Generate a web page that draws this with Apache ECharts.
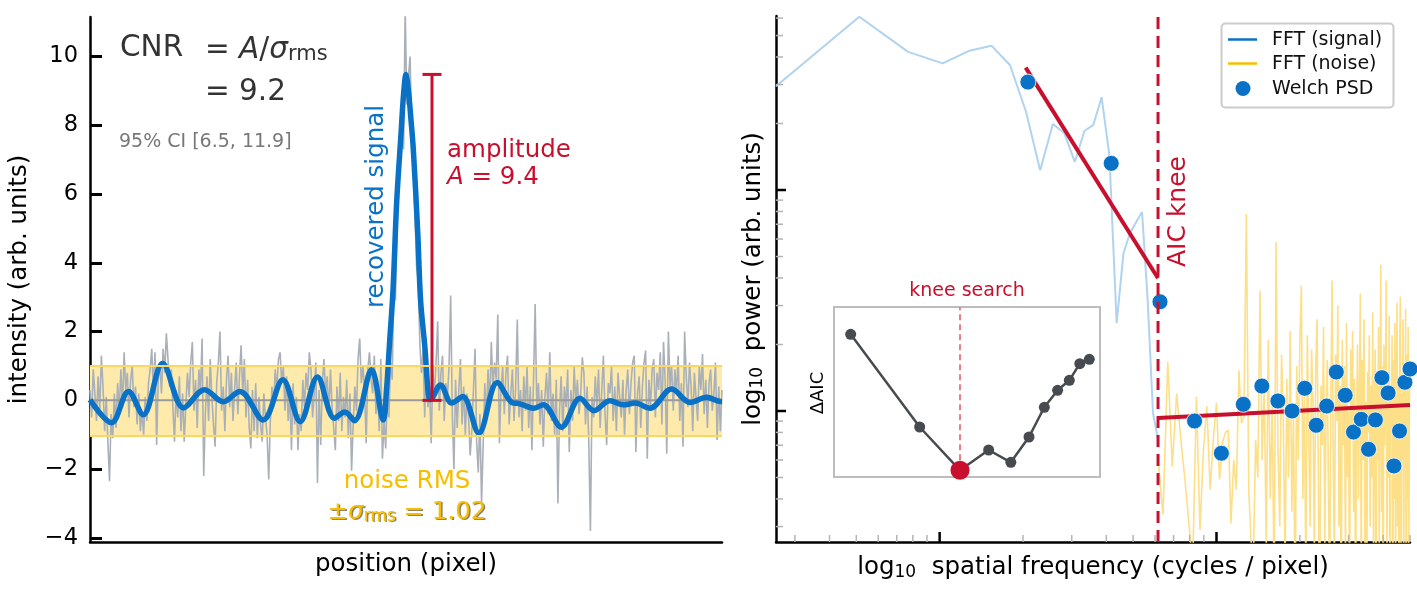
<!DOCTYPE html>
<html><head><meta charset="utf-8">
<script src="https://cdn.jsdelivr.net/npm/echarts@6/dist/echarts.min.js"></script>
<style>html,body{margin:0;padding:0;background:#fff}#c{width:1417px;height:590px}</style>
</head><body><div id="c"></div>
<script>
const FONT = 'DejaVu Sans';
const RED = '#c8102e', BLUE = '#0a72c6', GOLD = '#f5bf00';

// ---------- Left panel: intensity profile ----------
const noisyProfile = [
 0.3,-0.5,0.9,0.2,-0.6,0.7,-0.3,1.3,0.4,-0.9,
 0.1,-1.2,-2.35,-0.4,-1.1,0.2,-0.8,0.5,-0.3,0.9,
 -0.2,1.4,0.3,0.8,-0.5,0.6,1.0,-0.2,0.4,-0.7,
 0.2,-0.9,-0.3,-1.0,0.1,-0.6,0.5,0.9,1.5,0.3,
 1.4,-1.3,0.6,1.1,0.2,1.5,0.8,1.95,1.2,0.4,
 0.9,-0.2,-1.2,0.3,-0.5,0.7,-0.9,0.2,-1.2,-0.1,
 0.8,0.1,1.1,1.7,-0.3,0.6,-0.8,0.9,0.3,1.8,
 -2.2,-0.4,0.7,-0.6,1.2,0.1,-0.7,-1.35,0.5,1.1,
 2.0,-0.3,0.4,-0.9,0.6,1.3,-0.2,0.8,-0.6,0.3,
 1.1,-0.4,0.7,1.6,0.2,1.2,-0.5,0.6,-0.8,-1.4,
 0.3,-0.9,0.5,-1.1,0.1,-0.7,-1.2,0.2,-0.5,-1.0,
 -2.3,-0.6,0.4,-0.2,0.9,0.3,1.2,1.4,0.5,1.0,
 -0.3,0.7,-0.6,0.2,-1.45,0.5,-0.7,0.1,-1.45,-0.4,
 -0.9,0.6,-0.2,0.8,0.3,1.4,0.9,-0.5,0.2,1.1,
 -2.4,0.3,-1.3,0.5,1.2,0.2,0.7,-0.4,0.9,-0.2,
 -0.8,-1.45,0.4,-0.6,0.8,-0.9,0.1,-0.5,0.6,-1.1,
 0.2,-2.05,-0.7,0.4,-0.3,1.2,1.8,0.5,1.0,0.3,
 -1.25,0.9,1.4,0.6,0.2,1.3,-0.4,0.5,-0.9,1.2,
 -1.7,-0.6,-1.4,0.3,-0.5,1.1,0.6,3.3,2.9,5.1,
 6.4,7.5,8.8,7.3,11.4,8.6,9.4,10.0,7.9,7.0,
 5.4,3.9,3.5,1.7,0.8,1.5,-0.5,1.0,-0.2,0.4,
 -1.25,0.9,0.2,1.1,2.3,-0.3,0.8,1.3,-0.6,0.5,
 0.1,1.0,3.05,-0.4,-2.0,0.6,-0.8,0.3,1.2,-0.7,
 0.4,-1.0,0.2,-0.5,-1.6,-0.9,0.3,1.5,-1.2,-2.1,
 -0.4,-3.0,-1.3,0.5,-0.6,0.9,-0.2,1.7,0.4,1.1,
 0.6,2.5,-1.25,0.3,1.0,-0.4,0.8,1.3,-0.7,0.2,
 0.9,-0.6,0.4,2.35,-0.5,0.3,-0.9,0.7,-0.3,1.0,
 -0.8,0.4,-1.45,0.6,2.8,-0.2,0.5,-0.7,0.3,-1.35,
 0.1,0.8,-0.4,1.4,-0.6,0.2,-1.0,0.6,-3.0,-0.3,
 0.7,-0.9,0.4,-0.2,0.9,-1.5,0.3,-0.6,1.0,-0.1,
 0.6,-0.4,0.2,1.25,0.8,-0.7,0.4,-1.2,-3.8,0.1,
 -0.5,0.7,-0.2,0.9,-0.8,0.3,1.3,-0.4,-1.3,0.5,
 0.2,1.0,-0.6,0.4,-0.9,0.8,0.1,-0.5,0.6,-1.0,
 0.3,0.9,-0.4,0.5,1.1,1.3,-1.5,0.2,0.7,-0.8,
 0.4,1.1,1.45,-1.7,0.6,-0.2,0.9,1.2,-0.5,0.8,
 0.3,1.4,-0.7,1.7,0.6,-1.55,2.0,0.4,1.0,-0.3,
 0.9,0.2,1.3,-0.6,0.5,-1.35,2.0,0.7,-0.2,1.1,
 0.4,-0.9,0.8,0.1,-0.6,1.0,0.3,1.35,-0.4,0.6,
 -0.8,0.5,0.9,-0.3,0.2,1.1,-1.15,0.4,-0.9,0.3
];
const recoveredPos = [0,13.2,23.7,32.7,44.7,57.7,70.5,82,92.2,106.6,118.7,129.4,140,150.5,156.8,162.8,173.3,180.5,
 182.5,184.5,186.5,188.8,191.5,193,194.5,196,197.5,199,201.7,203.5,206.2,208.2,209.5,
 215.7,222.6,229.4,239.3,250.7,259.6,264.7,272.9,279,290.1,301.6,310.2,320,328.3,335.5,344.7,358,369.3,379.6,387.8,389];
const recoveredVal = [0.02,-0.65,0.26,-0.42,1.07,-0.22,0.31,-0.04,0.26,-0.57,0.6,-0.62,0.68,-0.52,-0.34,-0.59,0.89,-0.57,
 0.3,1.76,3.2,5.8,7.8,8.9,9.48,9.0,8.2,7.3,4.9,2.9,1.5,0.2,0.02,
 0.45,-0.08,0.11,-0.95,0.52,-0.06,-0.1,-0.23,-0.13,-0.78,0.06,-0.3,-0.01,-0.13,-0.08,-0.23,0.33,-0.06,0.09,-0.03,-0.03];
const noiseSigma = 1.02;
const amplitudePos = 210.5;
const amplitudeTop = 9.48;
const leftTicks = [-4,-2,0,2,4,6,8,10];

// ---------- Right panel: power spectra ----------
const fftLength = 390;                 // frequency bin k -> k / fftLength
const fftSignalStartBin = 1;
const fftSignalPower = [29.5,60.8,42.2,37.4,42.7,45.0,36.8,22.6,12.3,19.9,18.1,13.4,18.5,19.7,26.3,14.4,2.5,5.19,6.39,7.17,7.95,3.18,0.98,0.74];
const fftNoiseStartBin = 24;
const fftNoisePower = [
 0.6,0.34,1.67,0.56,1.2,0.74,0.49,0.31,0.2,1.16,
 0.29,0.67,1.05,0.44,0.75,1.09,0.49,0.72,0.8,0.82,
 0.31,0.6,0.44,1.53,0.88,0.94,7.8,0.44,0.26,0.2,
 0.74,0.5,3.5,0.6,1.3,0.25,2.1,0.4,1.1,0.15,
 5.8,0.7,0.3,1.8,0.9,0.2,1.4,0.5,2.3,0.35,
 1.0,0.12,1.6,0.6,2.0,3.7,0.4,1.2,0.18,2.2,
 0.8,0.3,1.9,1.1,0.22,1.5,2.6,0.5,0.1,1.3,
 0.7,2.4,0.25,1.0,1.7,0.4,0.15,1.2,3.9,0.6,
 0.2,1.8,0.9,3.0,0.3,1.3,0.08,2.1,0.7,1.6,
 0.2,2.5,0.5,1.0,0.12,1.9,0.8,2.3,0.35,1.4,
 0.1,0.9,2.0,0.4,1.2,3.4,0.15,1.7,0.6,2.6,
 0.25,1.1,0.07,1.5,0.8,2.2,0.3,1.3,0.5,2.8,
 0.18,1.0,1.9,0.1,1.4,0.6,2.4,0.22,1.2,4.6,
 0.35,1.6,0.09,2.0,0.7,1.1,3.9,0.2,1.5,0.5,
 2.7,0.12,1.3,0.8,2.2,0.06,1.7,0.4,2.5,0.15,
 1.0,3.1,0.3,1.4,0.08,2.0,3.3,0.2,1.2,0.6,
 2.6,0.1,1.5,0.7,2.9,0.05,1.8,0.4,2.4,0.18,
 1.1,1.6
];
const welchSegment = 48;               // Welch bin m -> m / welchSegment
const welchPower = [30.8,13.2,3.12,0.901,0.644,1.072,1.297,1.11,1.0,1.267,0.862,1.053,1.501,1.178,0.803,0.917,0.671,0.911,1.415,1.206,0.564,0.812,1.349,1.549];
const kneeFreq = 0.0615;
const fitLowFreq = [0.02045, 0.0615];
const fitLowPower = [35.8, 3.99];
const fitHighFreq = [0.0615, 0.5];
const fitHighPower = [0.93, 1.064];
// inset: knee search over Welch bins 1..11
const aicBins = [1,2,3,4,5,6,7,8,9,10,11];
const aicDelta = [13.6,4.33,0,2.03,0.8,3.33,6.3,8.0,9.0,10.66,11.1];
const aicBest = 3;

// axis extents
const X_MIN_L = 0, X_MAX_L = 389, Y_MIN_L = -4.12, Y_MAX_L = 11.15;
const X_MIN_R = 1/390, X_MAX_R = 0.5, Y_MIN_R = 0.2554, Y_MAX_R = 61.3;
const xMajorR = [0.01, 0.1], yMajorR = [1, 10];
const xMinorR = [], yMinorR = [];
[0.001,0.01,0.1].forEach(d=>{for(let j=2;j<=9;j++){const v=d*j; if(v>=X_MIN_R&&v<=X_MAX_R+1e-9) xMinorR.push(v);}});
[0.1,1,10].forEach(d=>{for(let j=2;j<=9;j++){const v=d*j; if(v>=Y_MIN_R&&v<=Y_MAX_R) yMinorR.push(v);}});

const chart = echarts.init(document.getElementById('c'), null, {width:1417, height:590});

const sub = (fs)=>({fontSize:fs, fontFamily:FONT, color:'#000', verticalAlign:'bottom', lineHeight:fs*0.8});
const txt = (fs)=>({fontSize:fs, fontFamily:FONT, color:'#000', lineHeight:fs*1.25, verticalAlign:'bottom'});

function tickSeries(axisIdx, data, isY, majorLen, minorLen){
  return {type:'custom', xAxisIndex:axisIdx, yAxisIndex:axisIdx, z:8, silent:true, clip:false,
    data: data,
    renderItem:(p, api)=>{
      const pt = api.coord([api.value(0), api.value(1)]);
      const major = api.value(2) === 1;
      const len = major ? majorLen : minorLen;
      const shape = isY ? {x1:pt[0], y1:pt[1], x2:pt[0]+len, y2:pt[1]} : {x1:pt[0], y1:pt[1], x2:pt[0], y2:pt[1]-len};
      return {type:'line', shape, style:{stroke: major ? '#000' : '#b4b4b4', lineWidth: major ? 2.5 : 1.5}};
    }};
}

const shadow = {textShadowColor:'rgba(70,50,0,0.6)', textShadowOffsetX:1.5, textShadowOffsetY:1.5, textShadowBlur:0.5};

const option = {
  animation:false,
  backgroundColor:'#fff',
  textStyle:{fontFamily:FONT},
  grid:[
    {left:90, top:17, width:632, height:525, outerBoundsMode:'none'},
    {left:776, top:16, width:634, height:526, outerBoundsMode:'none'},
    {left:834, top:307, width:266, height:170, show:true, borderColor:'#bdbdbd', borderWidth:2, backgroundColor:'rgba(255,255,255,0)', outerBoundsMode:'none'}
  ],
  xAxis:[
    {gridIndex:0, type:'value', min:X_MIN_L, max:X_MAX_L,
     axisLine:{show:true, onZero:false, lineStyle:{color:'#000', width:2.5}}, axisTick:{show:false}, axisLabel:{show:false}, splitLine:{show:false},
     name:'position (pixel)', nameLocation:'middle', nameGap:10, nameTextStyle:{fontSize:24.5, color:'#000', fontFamily:FONT}},
    {gridIndex:1, type:'log', min:X_MIN_R, max:X_MAX_R,
     axisLine:{show:true, onZero:false, lineStyle:{color:'#000', width:2.5}}, axisTick:{show:false}, axisLabel:{show:false}, splitLine:{show:false}, minorTick:{show:false},
     name:'{a|log}{s|10}{a|  spatial frequency (cycles / pixel)}', nameLocation:'middle', nameGap:8,
     nameTextStyle:{rich:{a:txt(24.5), s:sub(17)}}},
    {gridIndex:2, type:'log', min:0.017615, max:0.2552, show:false}
  ],
  yAxis:[
    {gridIndex:0, type:'value', min:Y_MIN_L, max:Y_MAX_L,
     axisLine:{show:true, onZero:false, lineStyle:{color:'#000', width:2.5}},
     axisTick:{show:true, inside:true, length:12, lineStyle:{color:'#000', width:3}, customValues:leftTicks},
     axisLabel:{show:true, fontSize:22.5, color:'#000', fontFamily:FONT, margin:12, customValues:leftTicks,
       formatter:v=> v<0 ? '\u2212'+Math.abs(v) : String(v)},
     splitLine:{show:false},
     name:'intensity (arb. units)', nameLocation:'middle', nameGap:58, nameTextStyle:{fontSize:24.5, color:'#000', fontFamily:FONT}},
    {gridIndex:1, type:'log', min:Y_MIN_R, max:Y_MAX_R,
     axisLine:{show:true, onZero:false, lineStyle:{color:'#000', width:2.5}}, axisTick:{show:false}, axisLabel:{show:false}, splitLine:{show:false},
     name:'{a|log}{s|10}{a|  power (arb. units)}', nameLocation:'middle', nameGap:10,
     nameTextStyle:{rich:{a:txt(24.5), s:sub(17)}}},
    {gridIndex:2, type:'value', min:-0.67, max:16.33, show:false}
  ],
  series:[
    // noise band
    {type:'line', xAxisIndex:0, yAxisIndex:0, z:1, silent:true, symbol:'none', data:[[0,0]], lineStyle:{opacity:0},
     markArea:{silent:true, itemStyle:{color:'#feebac'}, data:[[{yAxis:-noiseSigma},{yAxis:noiseSigma}]]},
     markLine:{silent:true, symbol:['none','none'], label:{show:false}, lineStyle:{color:'#fcd662', width:2, type:'solid'},
       data:[{yAxis:-noiseSigma},{yAxis:noiseSigma}]}},
    // noisy profile
    {type:'line', xAxisIndex:0, yAxisIndex:0, z:2, symbol:'none', silent:true,
     data: noisyProfile.map((v,i)=>[i,v]), lineStyle:{color:'#a9b0b8', width:1.6}},
    // zero line
    {type:'line', xAxisIndex:0, yAxisIndex:0, z:3, symbol:'none', silent:true,
     data:[[X_MIN_L,0],[X_MAX_L,0]], lineStyle:{color:'#9a9a9a', width:2}},
    // recovered signal
    {type:'line', xAxisIndex:0, yAxisIndex:0, z:4, symbol:'none', silent:true, smooth:0.35,
     data: recoveredPos.map((x,i)=>[x, recoveredVal[i]]), lineStyle:{color:BLUE, width:5.5}},
    // amplitude bar
    {type:'custom', xAxisIndex:0, yAxisIndex:0, z:5, silent:true, clip:false,
     data:[[amplitudePos, 0, amplitudeTop]],
     renderItem:(p, api)=>{
       const b = api.coord([api.value(0), api.value(1)]);
       const t = api.coord([api.value(0), api.value(2)]);
       const st = {stroke:RED, lineWidth:3};
       return {type:'group', children:[
         {type:'line', shape:{x1:b[0], y1:b[1], x2:t[0], y2:t[1]}, style:st},
         {type:'line', shape:{x1:t[0]-9.5, y1:t[1], x2:t[0]+9.5, y2:t[1]}, style:st},
         {type:'line', shape:{x1:b[0]-9.5, y1:b[1], x2:b[0]+9.5, y2:b[1]}, style:st}
       ]};
     }},
    // FFT signal
    {type:'line', xAxisIndex:1, yAxisIndex:1, z:2, symbol:'none', silent:true,
     data: fftSignalPower.map((v,i)=>[(i+fftSignalStartBin)/fftLength, v]), lineStyle:{color:'#b0d3ef', width:2}},
    // FFT noise
    {type:'line', xAxisIndex:1, yAxisIndex:1, z:2, symbol:'none', silent:true,
     data: fftNoisePower.map((v,i)=>[(i+fftNoiseStartBin)/fftLength, v]), lineStyle:{color:'#fddf88', width:1.6}},
    // fits
    {type:'line', xAxisIndex:1, yAxisIndex:1, z:3, symbol:'none', silent:true,
     data: fitLowFreq.map((f,i)=>[f, fitLowPower[i]]), lineStyle:{color:RED, width:4}},
    {type:'line', xAxisIndex:1, yAxisIndex:1, z:3, symbol:'none', silent:true,
     data: fitHighFreq.map((f,i)=>[f, fitHighPower[i]]), lineStyle:{color:RED, width:4}},
    // Welch PSD
    {type:'scatter', xAxisIndex:1, yAxisIndex:1, z:4, silent:true, symbolSize:16,
     data: welchPower.map((v,i)=>[(i+1)/welchSegment, v]), itemStyle:{color:BLUE, borderColor:'#fff', borderWidth:0.8, opacity:1}},
    // knee line
    {type:'line', xAxisIndex:1, yAxisIndex:1, z:5, symbol:'none', silent:true,
     data:[[kneeFreq, Y_MIN_R],[kneeFreq, Y_MAX_R]], lineStyle:{color:RED, width:3, type:[12,7]}},
    // ticks (log axes, inward)
    tickSeries(1, xMajorR.map(v=>[v, Y_MIN_R, 1]).concat(xMinorR.map(v=>[v, Y_MIN_R, 0])), false, 10, 7),
    tickSeries(1, yMajorR.map(v=>[X_MIN_R, v, 1]).concat(yMinorR.map(v=>[X_MIN_R, v, 0])), true, 10, 7),
    // inset
    {type:'line', xAxisIndex:2, yAxisIndex:2, z:6, symbol:'none', silent:true,
     data:[[aicBest/welchSegment, aicDelta[aicBins.indexOf(aicBest)]],[aicBest/welchSegment, 16.33]],
     lineStyle:{color:'#e6808c', width:2, type:[6,4]}},
    {type:'line', xAxisIndex:2, yAxisIndex:2, z:7, symbol:'circle', symbolSize:11, silent:true,
     data: aicBins.map((m,i)=>[m/welchSegment, aicDelta[i]]),
     lineStyle:{color:'#474b50', width:2.5}, itemStyle:{color:'#474b50'}},
    {type:'scatter', xAxisIndex:2, yAxisIndex:2, z:8, symbolSize:19, silent:true, clip:false,
     data:[[aicBest/welchSegment, aicDelta[aicBins.indexOf(aicBest)]]], itemStyle:{color:RED, opacity:1}}
  ],
  graphic:[
    {type:'text', x:120, y:48, z:20, style:{text:'CNR', fontSize:29.5, fontFamily:FONT, fill:'#333', verticalAlign:'middle'}},
    {type:'text', x:205, y:48, z:20, style:{text:'{n|= }{i|A}{n|/}{i|σ}{s|rms}', verticalAlign:'middle',
      rich:{n:{fontSize:29.5, fontFamily:FONT, fill:'#333', lineHeight:35, verticalAlign:'bottom'},
            i:{fontSize:29.5, fontFamily:FONT, fontStyle:'italic', fill:'#333', lineHeight:35, verticalAlign:'bottom'},
            s:{fontSize:21, fontFamily:FONT, fill:'#333', lineHeight:17, verticalAlign:'bottom'}}}},
    {type:'text', x:205, y:92, z:20, style:{text:'= 9.2', fontSize:29.5, fontFamily:FONT, fill:'#333', verticalAlign:'middle'}},
    {type:'text', x:119, y:142.5, z:20, style:{text:'95% CI [6.5, 11.9]', fontSize:19, fontFamily:FONT, fill:'#777', verticalAlign:'middle'}},
    {type:'text', x:377, y:206.5, z:20, rotation:Math.PI/2, style:{text:'recovered signal', fontSize:24.5, fontFamily:FONT, fill:BLUE, align:'center', verticalAlign:'middle'}},
    {type:'text', x:447, y:151, z:20, style:{text:'amplitude', fontSize:24.5, fontFamily:FONT, fill:RED, verticalAlign:'middle'}},
    {type:'text', x:447, y:178, z:20, style:{text:'{i|A}{n| = 9.4}', verticalAlign:'middle', fill:RED,
      rich:{i:{fontSize:24.5, fontFamily:FONT, fontStyle:'italic', fill:RED}, n:{fontSize:24.5, fontFamily:FONT, fill:RED}}}},
    {type:'text', x:407, y:482, z:20, style:{text:'noise RMS', fontSize:24.5, fontFamily:FONT, fill:GOLD, align:'center', verticalAlign:'middle',
      shadowColor:'rgba(70,50,0,0.6)', shadowOffsetX:1.5, shadowOffsetY:1.5, shadowBlur:0.5}},
    {type:'text', x:407, y:510, z:20, style:{text:'{n|±}{i|σ}{s|rms}{n| = 1.02}', align:'center', verticalAlign:'middle', fill:GOLD,
      rich:{n:Object.assign({fontSize:24.5, fontFamily:FONT, fill:GOLD, lineHeight:30, verticalAlign:'bottom'}, shadow),
            i:Object.assign({fontSize:24.5, fontFamily:FONT, fontStyle:'italic', fill:GOLD, lineHeight:30, verticalAlign:'bottom'}, shadow),
            s:Object.assign({fontSize:17, fontFamily:FONT, fill:GOLD, lineHeight:14, verticalAlign:'bottom'}, shadow)}}},
    {type:'text', x:1178, y:211.5, z:20, rotation:Math.PI/2, style:{text:'AIC knee', fontSize:25, fontFamily:FONT, fill:RED, align:'center', verticalAlign:'middle'}},
    {type:'text', x:967, y:291, z:20, style:{text:'knee search', fontSize:19, fontFamily:FONT, fill:RED, align:'center', verticalAlign:'middle'}},
    {type:'text', x:818, y:393, z:20, rotation:Math.PI/2, style:{text:'ΔAIC', fontSize:18, fontFamily:FONT, fill:'#000', align:'center', verticalAlign:'middle'}},
    // legend
    {type:'rect', z:30, shape:{x:1221.5, y:23.5, width:172, height:84, r:4}, style:{fill:'#fff', stroke:'#cccccc', lineWidth:2}},
    {type:'line', z:31, shape:{x1:1228, y1:39.5, x2:1257, y2:39.5}, style:{stroke:BLUE, lineWidth:2.5}},
    {type:'line', z:31, shape:{x1:1228, y1:63.5, x2:1257, y2:63.5}, style:{stroke:GOLD, lineWidth:2.5}},
    {type:'circle', z:31, shape:{cx:1243, cy:88.5, r:7.5}, style:{fill:BLUE}},
    {type:'text', x:1272, y:40, z:31, style:{text:'FFT (signal)', fontSize:19, fontFamily:FONT, fill:'#111', verticalAlign:'middle'}},
    {type:'text', x:1272, y:64, z:31, style:{text:'FFT (noise)', fontSize:19, fontFamily:FONT, fill:'#111', verticalAlign:'middle'}},
    {type:'text', x:1272, y:89, z:31, style:{text:'Welch PSD', fontSize:19, fontFamily:FONT, fill:'#111', verticalAlign:'middle'}}
  ]
};
chart.setOption(option);
</script>
</body></html>
